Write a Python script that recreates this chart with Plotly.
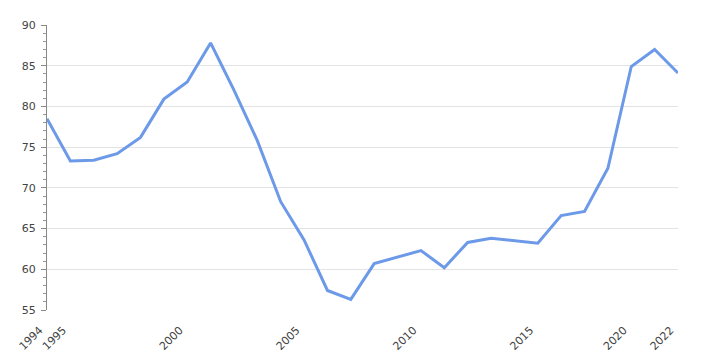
import plotly.graph_objects as go

years = ["1994", "1995", "1996", "1997", "1998", "1999", "2000", "2001", "2002",
         "2003", "2004", "2005", "2006", "2007", "2008", "2009", "2010", "2011",
         "2012", "2013", "2014", "2015", "2016", "2017", "2018", "2020", "2021", "2022"]
values = [78.5, 73.3, 73.4, 74.2, 76.2, 80.9, 83.0, 87.8, 82.0,
          75.8, 68.3, 63.6, 57.4, 56.3, 60.7, 61.5, 62.3, 60.2,
          63.3, 63.8, 63.5, 63.2, 66.6, 67.1, 72.4, 84.9, 87.0, 84.1]
tick_labels = ["1994", "1995", "2000", "2005", "2010", "2015", "2020", "2022"]

fig = go.Figure()
fig.add_trace(go.Scatter(
    x=years, y=values, mode="lines",
    line=dict(color="#6c99e8", width=3),
    hoverinfo="x+y",
))

fig.update_layout(
    width=703, height=352,
    margin=dict(l=39, r=33, t=17, b=50, autoexpand=False),
    paper_bgcolor="white", plot_bgcolor="white",
    font=dict(family="DejaVu Sans", size=11, color="#444"),
    showlegend=False,
)
fig.update_xaxes(
    type="category", range=[0, len(years) - 1],
    tickmode="array", tickvals=tick_labels,
    ticktext=[t + "\u00a0\u00a0\u00a0" for t in tick_labels],
    tickangle=-45, showgrid=False, showline=False, zeroline=False,
    ticks="outside", ticklen=1, tickcolor="rgba(0,0,0,0)",
    tickfont=dict(size=11, color="#444"), automargin=False,
)
fig.update_yaxes(
    range=[55, 90], dtick=5, showgrid=True, gridcolor="#e3e3e3", gridwidth=1,
    showline=True, linecolor="#888", linewidth=1, zeroline=False,
    ticks="outside", ticklen=5, tickcolor="#888", ticklabelstandoff=3,
    minor=dict(dtick=1, ticks="outside", ticklen=3, tickcolor="#999", showgrid=False),
    tickfont=dict(size=11, color="#444"), automargin=False,
)

fig.write_html("out.html")
